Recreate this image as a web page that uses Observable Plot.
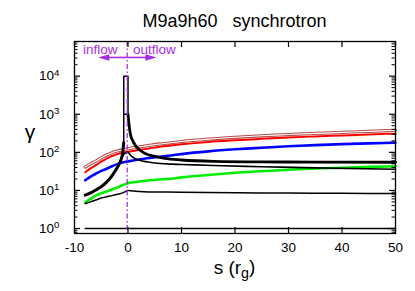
<!DOCTYPE html>
<html><head><meta charset="utf-8">
<script src="https://cdn.jsdelivr.net/npm/d3@7"></script>
<script src="https://cdn.jsdelivr.net/npm/@observablehq/plot@0.6"></script>
<style>body{margin:0;background:#fff}</style>
</head><body><div id="chart"></div>
<script>
// ---- data ----
const sGrid = [-8,-7,-6,-5,-4,-3,-2,-1,0,2,4,6,8,10,15,20,25,30,35,40,45,50];
const gammaBrown = [41,50,59,72,85,98,108,116,124,138,152,166,178,192,222,248,272,293,314,334,356,380];
const gammaRed   = [30,38,46,57,68,80,90,97,103,115,127,140,151,162,187,207,226,245,262,278,295,310];
const gammaBlue  = [18.5,23,27.5,32.5,37,43,49,54,58,65,71,77,83,90,106,120,132,144,155,164,172,180];
const gammaGreen = [4.8,6,7.3,8.4,9.4,10.6,12,13.8,15.5,17,18.5,19.5,20.3,22,25.5,29,32,35,37.5,39.5,41.5,43];

const sBundle = [-8,-7,-6,-5,-4,-3,-2.5,-2,-1.5,-1.2,-1,-0.9,-0.8];
const gammaBundle = [7.5,8.6,10.3,12.5,16.5,24,31,40,55,72,95,130,180];
const sSpike = [-0.8,-0.8,0,0];
const gammaSpike = [180,10000,10000,1000];
const sPeak = [-0.8,0];
const gammaPeak = [1000,1000];
const sDecay = [0,0.15,0.45,0.9,1.4,2.2,3.2,5,6.9,10,16,25,35,50];
const gammaDecay = [1000,600,300,200,150,115,93,78,69,63,58,56,55.5,55];
const sThin = [-1.5,-1,-0.5,0,0.3,0.8,1.5,3,4,6,8,10,16,25,35,50];
const gammaThin = [55,80,95,100,90,76,67,58,55,51,49,48,45,42,39,36];
const sLow = [-8,-7,-6,-5,-4,-3,-2,-1,-0.5,0,1,3,6,10,20,30,40,50];
const gammaLow = [4.5,5,5.6,6.3,6.8,7.3,7.9,8.6,9.3,10,9.7,9.3,9.1,8.9,8.7,8.5,8.4,8.3];
const sUnity = [-8,50];
const gammaUnity = [1,1];

const xTicks = [-10,0,10,20,30,40,50];
const yMajor = [1,10,100,1000,10000];
const yDecades = [0.1,1,10,100,1000,10000];
const sHorizon = -0.15;

// ---- layout ----
const W = 415, H = 291, mL = 74, mR = 20, mT = 41, mB = 58;
const innerW = W - mL - mR, innerH = H - mT - mB;
const purple = "#a52ee0";
const font = "'Liberation Sans', Arial, Helvetica, sans-serif";

const rows = (xs, ys) => xs.map((s, i) => ({s, g: ys[i]}));
const yMinor = yDecades.flatMap(d => [2,3,4,5,6,7,8,9].map(m => m * d)).filter(v => v > 0.74 && v < 81300);

const arrowHead = {draw(ctx) { ctx.moveTo(0, 0); ctx.lineTo(-3.2, 11); ctx.lineTo(3.2, 11); ctx.closePath(); }};

const line = (xs, ys, stroke, strokeWidth, curve = "monotone-x") =>
  Plot.line(rows(xs, ys), {x: "s", y: "g", stroke, strokeWidth, curve, strokeLinejoin: "round"});

const chart = Plot.plot({
  width: W, height: H,
  marginLeft: mL, marginRight: mR, marginTop: mT, marginBottom: mB,
  style: {fontFamily: font, background: "white", color: "black"},
  x: {domain: [-10, 50]},
  y: {type: "log", domain: [0.74, 81300], axis: null},
  marks: [
    // colored curves
    line(sGrid, gammaBrown, "#b84a4a", 3.2),
    line(sGrid, gammaBrown, "white", 1.1),
    line(sGrid, gammaRed, "#ff0000", 2),
    line(sGrid, gammaBlue, "#0000ff", 2.6),
    line(sGrid, gammaGreen, "#00ee00", 2.6),
    // black curves
    line(sUnity, gammaUnity, "black", 1.5, "linear"),
    line(sLow, gammaLow, "black", 1.5),
    line(sBundle, gammaBundle, "black", 3),
    line(sSpike, gammaSpike, "black", 1.5, "linear"),
    line(sPeak, gammaPeak, "black", 1.5, "linear"),
    line(sDecay, gammaDecay, "black", 2.8),
    line(sThin, gammaThin, "black", 1.6),
    // horizon marker and arrows
    Plot.ruleX([sHorizon], {stroke: purple, strokeWidth: 1.3, strokeDasharray: "5,2.5,1.5,2.5"}),
    Plot.link([{x1: sHorizon, x2: -5.0}, {x1: sHorizon, x2: 4.7}], {x1: "x1", x2: "x2", y1: () => 31000, y2: () => 31000, stroke: purple, strokeWidth: 1.6}),
    Plot.dot([{x: -5.55, r: -90}, {x: 5.3, r: 90}], {x: "x", y: () => 31000, rotate: "r", symbol: arrowHead, fill: purple, stroke: "none"}),
    Plot.text([{x: -5.18, t: "inflow"}, {x: 4.92, t: "outflow"}], {x: "x", y: () => 50800, text: "t", fill: purple, fontSize: 13.5, fontFamily: font}),
    // inward ticks
    Plot.tickY(yMajor, {y: d => d, insetRight: innerW - 6, stroke: "black", strokeWidth: 1.2}),
    Plot.tickY(yMajor, {y: d => d, insetLeft: innerW - 6, stroke: "black", strokeWidth: 1.2}),
    Plot.tickY(yMinor, {y: d => d, insetRight: innerW - 3.5, stroke: "black", strokeWidth: 1}),
    Plot.tickY(yMinor, {y: d => d, insetLeft: innerW - 3.5, stroke: "black", strokeWidth: 1}),
    Plot.tickX(xTicks, {x: d => d, insetTop: innerH - 6, stroke: "black", strokeWidth: 1.2}),
    Plot.tickX(xTicks, {x: d => d, insetBottom: innerH - 6, stroke: "black", strokeWidth: 1.2}),
    // tick labels
    Plot.axisX({ticks: xTicks, tickSize: 0, tickPadding: 9, fontSize: 13.5, label: null, tickFormat: d => String(d)}),
    Plot.text(yMajor, {y: d => d, text: d => String(Math.round(Math.log10(d))), frameAnchor: "left", dx: -15, textAnchor: "end", fontSize: 13.5, className: "ylab"}),
    Plot.frame({stroke: "black", strokeWidth: 1.3})
  ]
});

const svg = d3.select(chart);
svg.selectAll("g.ylab text").each(function() {
  const e = this.textContent;
  const t = d3.select(this);
  t.text("10");
  t.append("tspan").attr("dy", "-0.5em").attr("font-size", "0.72em").text(e);
});
svg.append("text").attr("x", 234.5).attr("y", 27).attr("text-anchor", "middle")
  .attr("font-family", font).attr("font-size", 18).attr("fill", "black")
  .text("M9a9h60\u00a0\u00a0\u00a0synchrotron");
svg.append("text").attr("x", 30).attr("y", 139).attr("text-anchor", "middle")
  .attr("font-family", font).attr("font-size", 21).attr("fill", "black").text("γ");
const xl = svg.append("text").attr("x", 234.5).attr("y", 274).attr("text-anchor", "middle")
  .attr("font-family", font).attr("font-size", 19).attr("fill", "black");
xl.append("tspan").text("s (r");
xl.append("tspan").attr("dy", "0.3em").attr("font-size", "0.75em").text("g");
xl.append("tspan").attr("dy", "-0.3em").text(")");

document.getElementById("chart").appendChild(chart);
</script>
</body></html>
